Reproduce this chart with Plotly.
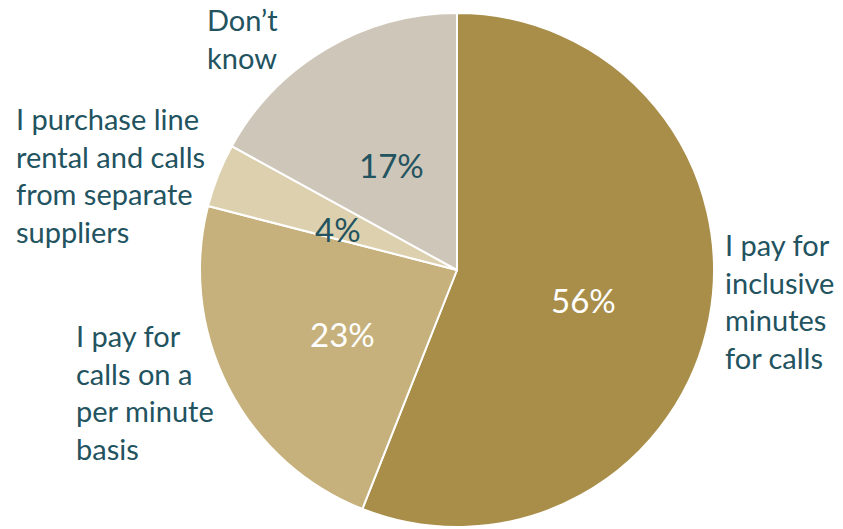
import math
import plotly.graph_objects as go

# Survey answers: how landline calls are paid for
categories = [
    "I pay for inclusive minutes for calls",
    "I pay for calls on a per minute basis",
    "I purchase line rental and calls from separate suppliers",
    "Don\u2019t know",
]
shares = [56, 23, 4, 17]
label_lines = [
    ["I pay for", "inclusive", "minutes", "for calls"],
    ["I pay for", "calls on a", "per minute", "basis"],
    ["I purchase line", "rental and calls", "from separate", "suppliers"],
    ["Don\u2019t", "know"],
]
slice_colors = ["#A98E4A", "#C6B17C", "#DDD0AF", "#CEC6B9"]
pct_colors = ["#FFFFFF", "#FFFFFF", "#22535F", "#22535F"]

W, H = 843, 529
TEXT = "#22535F"
FONT = "Lato"

# pie geometry in pixels
cx, cy, R = 457, 270, 257

fig = go.Figure(
    go.Pie(
        labels=categories,
        values=shares,
        sort=False,
        direction="clockwise",
        rotation=0,
        marker=dict(colors=slice_colors, line=dict(color="#FFFFFF", width=2)),
        textinfo="none",
        hoverinfo="label+percent",
        showlegend=False,
        domain=dict(x=[(cx - R) / W, (cx + R) / W], y=[(H - cy - R) / H, (H - cy + R) / H]),
    )
)

annotations = []

# percentage labels at half radius along each slice's mid-angle
total = sum(shares)
start = 0.0
for val, col in zip(shares, pct_colors):
    mid = start + val / total * 360 / 2
    start += val / total * 360
    a = math.radians(mid)
    px = cx + 0.5 * R * math.sin(a)
    py = cy - 0.5 * R * math.cos(a) + 6
    annotations.append(dict(
        x=px / W, y=1 - py / H, xref="paper", yref="paper",
        text=f"{round(val / total * 100)}%", showarrow=False,
        xanchor="center", yanchor="middle",
        font=dict(family=FONT, size=33, color=col),
    ))

# category labels around the pie (left edge, vertical centre in pixels)
label_pos = [(723, 301), (74, 392), (14, 175), (205, 38)]
for lines, (lx, ly) in zip(label_lines, label_pos):
    annotations.append(dict(
        x=lx / W, y=1 - ly / H, xref="paper", yref="paper",
        text="<br>".join(lines), showarrow=False, align="left",
        xanchor="left", yanchor="middle",
        font=dict(family=FONT, size=29, color=TEXT),
    ))

fig.update_layout(
    width=W, height=H,
    margin=dict(l=0, r=0, t=0, b=0),
    paper_bgcolor="#FFFFFF",
    plot_bgcolor="#FFFFFF",
    annotations=annotations,
)

fig.write_html("out.html")
